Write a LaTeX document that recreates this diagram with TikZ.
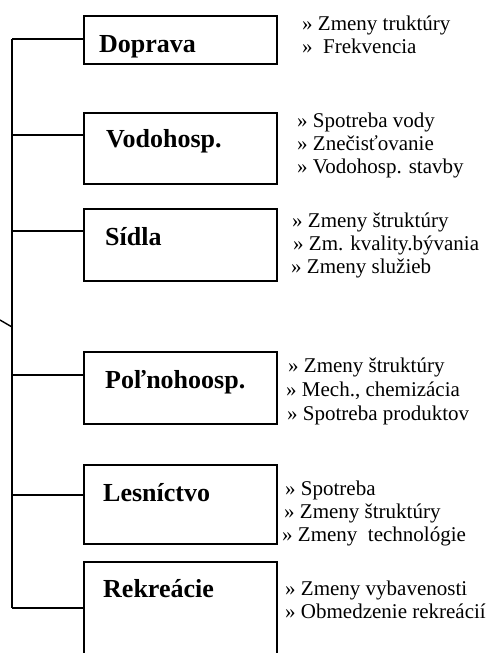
\documentclass[tikz,border=0pt]{standalone}
\usepackage{fontspec}
\setmainfont{Liberation Serif}
\tikzset{
  sector/.style={draw, line width=1.8pt, minimum width=193pt, inner sep=0pt, anchor=north west},
  sectorname/.style={anchor=base west, inner sep=0pt, font=\fontsize{26}{30}\selectfont\bfseries},
  item/.style={anchor=base west, inner sep=0pt, font=\fontsize{21}{23}\selectfont},
  link/.style={line width=1.4pt}
}
\begin{document}
\begin{tikzpicture}[x=1pt, y=-1pt]
    \useasboundingbox (0,0) rectangle (491,653);
    % sector boxes
    \node[sector, minimum height=48pt] (doprava) at (83,15) {};
    \node[sector, minimum height=71pt] (vodohosp) at (83,112) {};
    \node[sector, minimum height=72pt] (sidla) at (83,208) {};
    \node[sector, minimum height=72pt] (polno) at (83,351) {};
    \node[sector, minimum height=79pt] (lesnictvo) at (83,464) {};
    \node[sector, minimum height=110pt] (rekreacie) at (83,561) {};
    % sector names
    \node[sectorname] (ndoprava) at (99,52) {Doprava};
    \node[sectorname] (nvodohosp) at (106,147) {Vodohosp.};
    \node[sectorname] (nsidla) at (105,245) {Sídla};
    \node[sectorname] (npolno) at (105,388) {Poľnohoosp.};
    \node[sectorname] (nlesnictvo) at (103,501) {Lesníctvo};
    \node[sectorname] (nrekreacie) at (103,597) {Rekreácie};
    % items
    \node[item] (d1) at (302,30) {» Zmeny truktúry};
    \node[item] (d2) at (302,53) {»\ \ Frekvencia};
    \node[item] (v1) at (297,127) {» Spotreba vody};
    \node[item] (v2) at (297,150) {» Znečisťovanie};
    \node[item] (v3) at (297,173) {» Vodohosp. stavby};
    \node[item] (s1) at (292,227) {» Zmeny štruktúry};
    \node[item] (s2) at (293,250) {» Zm. kvality.bývania};
    \node[item] (s3) at (291,273) {» Zmeny služieb};
    \node[item] (p1) at (288,372) {» Zmeny štruktúry};
    \node[item] (p2) at (286,396) {» Mech., chemizácia};
    \node[item] (p3) at (287,420) {» Spotreba produktov};
    \node[item] (l1) at (285,495) {» Spotreba};
    \node[item] (l2) at (284,518) {» Zmeny štruktúry};
    \node[item] (l3) at (282,541) {» Zmeny\ \ technológie};
    \node[item] (r1) at (285,595) {» Zmeny vybavenosti};
    \node[item] (r2) at (285,618) {» Obmedzenie rekreácií};
    % trunk
    \coordinate (t1) at (12,39);
    \coordinate (t2) at (12,135);
    \coordinate (t3) at (12,231);
    \coordinate (t4) at (12,375);
    \coordinate (t5) at (12,495);
    \coordinate (t6) at (12,608);
    \coordinate (stub) at (0,320);
    \coordinate (tstub) at (12,327);
    \draw[link] (t1) -- (t6);
    \draw[link] (stub) -- (tstub);
    \draw[link] (t1) -- (t1 -| doprava.west);
    \draw[link] (t2) -- (t2 -| vodohosp.west);
    \draw[link] (t3) -- (t3 -| sidla.west);
    \draw[link] (t4) -- (t4 -| polno.west);
    \draw[link] (t5) -- (t5 -| lesnictvo.west);
    \draw[link] (t6) -- (t6 -| rekreacie.west);
\end{tikzpicture}
\end{document}
